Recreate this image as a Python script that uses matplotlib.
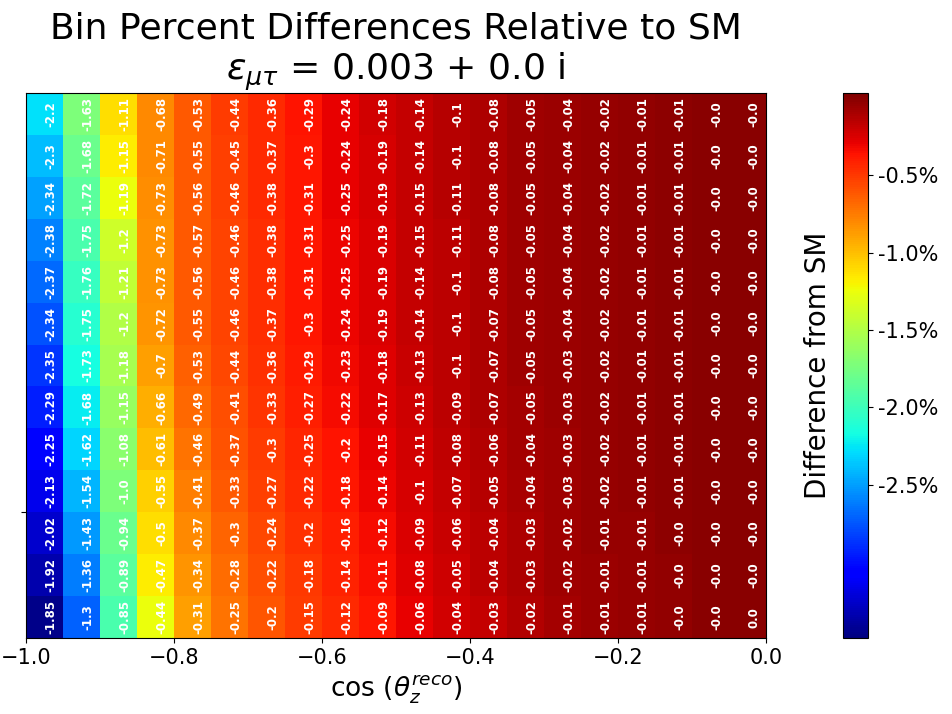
import numpy as np
import matplotlib
matplotlib.use("Agg")
import matplotlib.pyplot as plt
from matplotlib.ticker import FormatStrFormatter

# cos(theta) bin edges (20 bins from -1 to 0)
x_edges = np.linspace(-1.0, 0.0, 21)
n_rows = 13

# Printed percent differences, one list per cos(theta) column, rows listed top -> bottom
label_cols = [
    [-2.2, -2.3, -2.34, -2.38, -2.37, -2.34, -2.35, -2.29, -2.25, -2.13, -2.02, -1.92, -1.85],
    [-1.63, -1.68, -1.72, -1.75, -1.76, -1.75, -1.73, -1.68, -1.62, -1.54, -1.43, -1.36, -1.3],
    [-1.11, -1.15, -1.19, -1.2, -1.21, -1.2, -1.18, -1.15, -1.08, -1.0, -0.94, -0.89, -0.85],
    [-0.68, -0.71, -0.73, -0.73, -0.73, -0.72, -0.7, -0.66, -0.61, -0.55, -0.5, -0.47, -0.44],
    [-0.53, -0.55, -0.56, -0.57, -0.56, -0.55, -0.53, -0.49, -0.46, -0.41, -0.37, -0.34, -0.31],
    [-0.44, -0.45, -0.46, -0.46, -0.46, -0.46, -0.44, -0.41, -0.37, -0.33, -0.3, -0.28, -0.25],
    [-0.36, -0.37, -0.38, -0.38, -0.38, -0.37, -0.36, -0.33, -0.3, -0.27, -0.24, -0.22, -0.2],
    [-0.29, -0.3, -0.31, -0.31, -0.31, -0.3, -0.29, -0.27, -0.25, -0.22, -0.2, -0.18, -0.15],
    [-0.24, -0.24, -0.25, -0.25, -0.25, -0.24, -0.23, -0.22, -0.2, -0.18, -0.16, -0.14, -0.12],
    [-0.18, -0.19, -0.19, -0.19, -0.19, -0.19, -0.18, -0.17, -0.15, -0.14, -0.12, -0.11, -0.09],
    [-0.14, -0.14, -0.15, -0.15, -0.14, -0.14, -0.13, -0.13, -0.11, -0.1, -0.09, -0.08, -0.06],
    [-0.1, -0.1, -0.11, -0.11, -0.1, -0.1, -0.1, -0.09, -0.08, -0.07, -0.06, -0.05, -0.04],
    [-0.08, -0.08, -0.08, -0.08, -0.08, -0.07, -0.07, -0.07, -0.06, -0.05, -0.04, -0.04, -0.03],
    [-0.05, -0.05, -0.05, -0.05, -0.05, -0.05, -0.05, -0.05, -0.04, -0.04, -0.03, -0.03, -0.02],
    [-0.04, -0.04, -0.04, -0.04, -0.04, -0.04, -0.03, -0.03, -0.03, -0.03, -0.02, -0.02, -0.01],
    [-0.02, -0.02, -0.02, -0.02, -0.02, -0.02, -0.02, -0.02, -0.02, -0.02, -0.01, -0.01, -0.01],
    [-0.01, -0.01, -0.01, -0.01, -0.01, -0.01, -0.01, -0.01, -0.01, -0.01, -0.01, -0.01, -0.01],
    [-0.01, -0.01, -0.01, -0.01, -0.01, -0.01, -0.01, -0.01, -0.01, -0.01, -0.0, -0.0, -0.0],
    [-0.0, -0.0, -0.0, -0.0, -0.0, -0.0, -0.0, -0.0, -0.0, -0.0, -0.0, -0.0, -0.0],
    [-0.0, -0.0, -0.0, -0.0, -0.0, -0.0, -0.0, -0.0, -0.0, -0.0, -0.0, -0.0, 0.0],
]

# Values behind the cell colours (estimated from the colour scale), rows top -> bottom
color_cols = [
    [-2.28, -2.4, -2.5, -2.6, -2.68, -2.77, -2.86, -2.95, -3.05, -3.15, -3.25, -3.35, -3.46],
    [-1.72, -1.8, -1.88, -1.95, -2.02, -2.09, -2.16, -2.23, -2.32, -2.42, -2.52, -2.62, -2.72],
    [-1.12, -1.17, -1.25, -1.38, -1.44, -1.5, -1.55, -1.61, -1.67, -1.73, -1.8, -1.88, -1.95],
    [-0.8, -0.8, -0.82, -0.83, -0.83, -0.84, -0.88, -0.94, -1.0, -1.06, -1.12, -1.18, -1.25],
    [-0.62, -0.62, -0.63, -0.63, -0.63, -0.63, -0.65, -0.68, -0.72, -0.76, -0.8, -0.84, -0.88],
    [-0.52, -0.53, -0.53, -0.54, -0.54, -0.54, -0.55, -0.58, -0.6, -0.63, -0.66, -0.69, -0.72],
    [-0.44, -0.45, -0.45, -0.46, -0.46, -0.46, -0.47, -0.49, -0.51, -0.53, -0.56, -0.58, -0.61],
    [-0.36, -0.37, -0.37, -0.38, -0.38, -0.38, -0.39, -0.41, -0.43, -0.45, -0.47, -0.5, -0.52],
    [-0.29, -0.3, -0.3, -0.31, -0.31, -0.31, -0.32, -0.34, -0.36, -0.38, -0.4, -0.42, -0.44],
    [-0.23, -0.24, -0.24, -0.25, -0.25, -0.25, -0.26, -0.27, -0.29, -0.31, -0.33, -0.35, -0.37],
    [-0.18, -0.18, -0.19, -0.19, -0.19, -0.19, -0.2, -0.21, -0.22, -0.24, -0.25, -0.27, -0.29],
    [-0.14, -0.14, -0.14, -0.15, -0.15, -0.15, -0.15, -0.16, -0.17, -0.18, -0.2, -0.21, -0.23],
    [-0.11, -0.11, -0.11, -0.11, -0.11, -0.11, -0.12, -0.12, -0.13, -0.14, -0.15, -0.16, -0.18],
    [-0.08, -0.08, -0.08, -0.08, -0.08, -0.08, -0.08, -0.09, -0.09, -0.1, -0.11, -0.12, -0.13],
    [-0.06, -0.06, -0.06, -0.06, -0.06, -0.06, -0.06, -0.06, -0.07, -0.07, -0.08, -0.08, -0.09],
    [-0.04, -0.04, -0.04, -0.04, -0.04, -0.04, -0.04, -0.04, -0.05, -0.05, -0.05, -0.06, -0.06],
    [-0.03, -0.03, -0.03, -0.03, -0.03, -0.03, -0.03, -0.03, -0.03, -0.03, -0.04, -0.04, -0.04],
    [-0.02, -0.02, -0.02, -0.02, -0.02, -0.02, -0.02, -0.02, -0.02, -0.02, -0.02, -0.03, -0.03],
    [-0.01, -0.01, -0.01, -0.01, -0.01, -0.01, -0.01, -0.01, -0.01, -0.01, -0.01, -0.01, -0.01],
    [0.0, 0.0, 0.0, 0.0, 0.0, 0.0, 0.0, 0.0, 0.0, 0.0, 0.0, 0.0, 0.0],
]

cbar_ticks = [-0.5, -1.0, -1.5, -2.0, -2.5]
color_min, color_max = -3.49, 0.03

x_ticks = [-1.0, -0.8, -0.6, -0.4, -0.2, 0.0]

# ---------------------------------------------------------------
y_edges = np.arange(n_rows + 1)
C = np.array(color_cols).T[::-1]      # rows bottom -> top
L = np.array(label_cols).T[::-1]

fig = plt.figure(figsize=(9.52, 7.14), dpi=100)
ax = fig.add_axes([0.0273, 0.1064, 0.7773, 0.7633])
cax = fig.add_axes([0.8855, 0.1064, 0.0263, 0.7633])

mesh = ax.pcolormesh(x_edges, y_edges, C, cmap="jet", vmin=color_min, vmax=color_max)

xc = 0.5 * (x_edges[:-1] + x_edges[1:])
yc = 0.5 * (y_edges[:-1] + y_edges[1:])
for i in range(n_rows):
    for j in range(len(xc)):
        ax.text(xc[j], yc[i], str(L[i, j]), rotation=90, ha="left", va="center",
                color="white", fontsize=8.5, fontweight="bold")

ax.set_xlim(x_edges[0], x_edges[-1])
ax.set_ylim(y_edges[0], y_edges[-1])
ax.set_xticks(x_ticks)
ax.tick_params(axis="x", labelsize=15)
ax.set_yticks([3])
ax.set_yticklabels([""])
ax.set_xlabel(r"cos ($\theta_z^{reco}$)", fontsize=19)
ax.set_title("Bin Percent Differences Relative to SM\n" + r"$\epsilon_{\mu\tau}$ = 0.003 + 0.0 i",
             fontsize=26)

cb = fig.colorbar(mesh, cax=cax, ticks=cbar_ticks, format=FormatStrFormatter("%.1f%%"))
cb.ax.tick_params(labelsize=15)
cb.ax.yaxis.set_label_position("left")
cb.set_label("Difference from SM", fontsize=20, labelpad=8)

fig.savefig("out.png", dpi=100)
